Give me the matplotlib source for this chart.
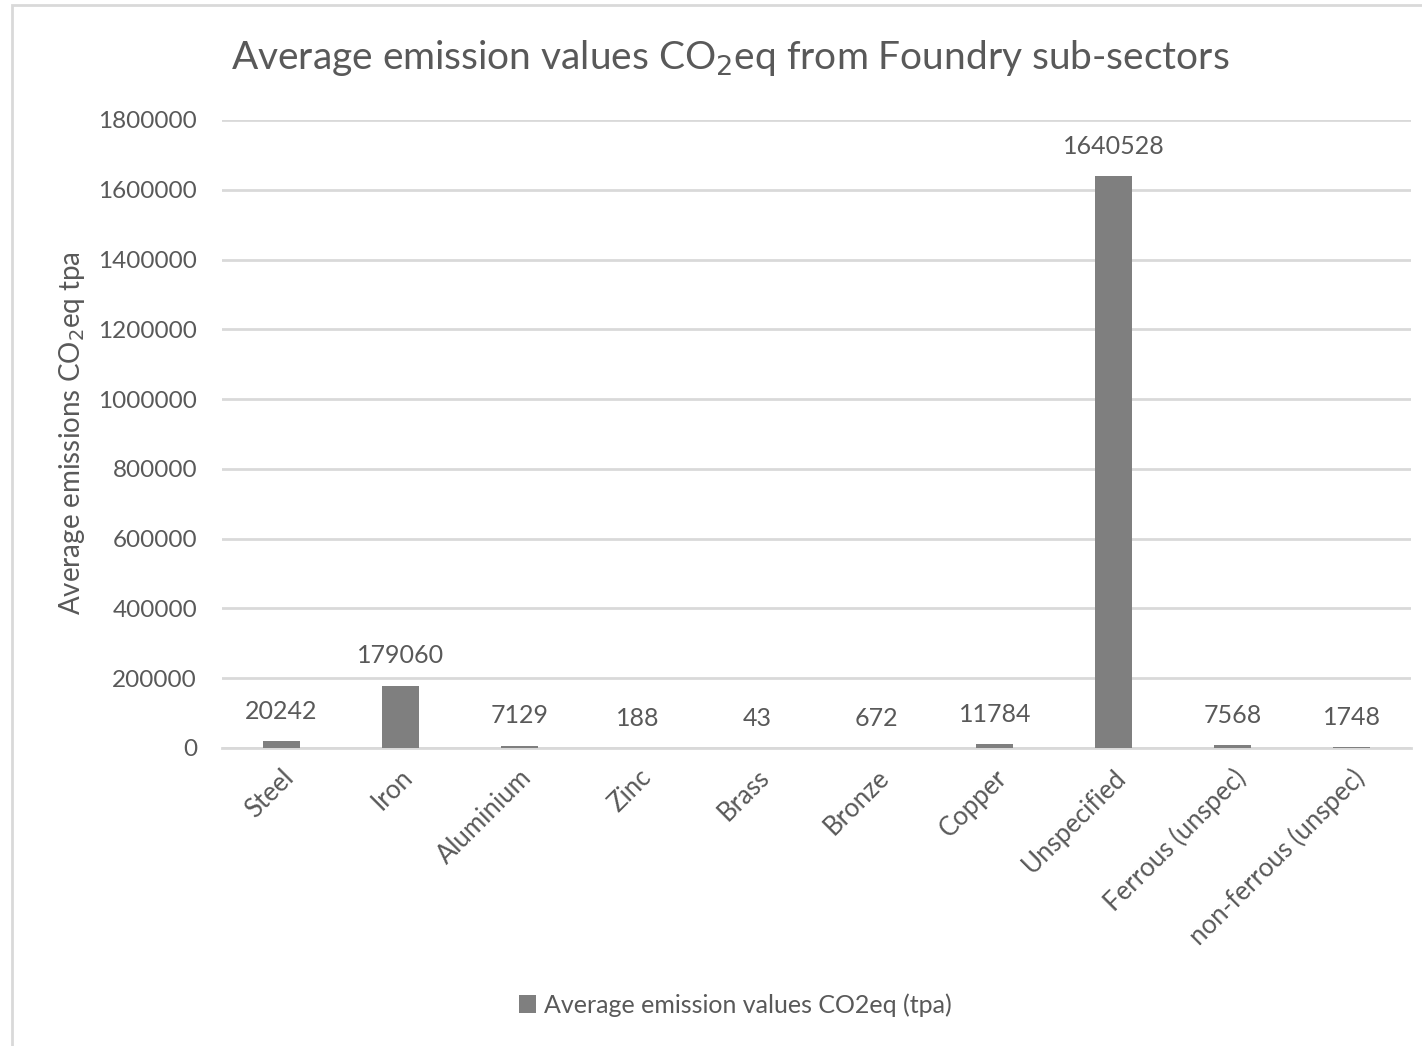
import matplotlib.pyplot as plt
from matplotlib.patches import Rectangle

# Foundry sub-sectors and average emissions (tpa CO2eq)
categories = ["Steel", "Iron", "Aluminium", "Zinc", "Brass", "Bronze",
              "Copper", "Unspecified", "Ferrous (unspec)", "non-ferrous (unspec)"]
emissions = [20242, 179060, 7129, 188, 43, 672, 11784, 1640528, 7568, 1748]
yticks = [0, 200000, 400000, 600000, 800000, 1000000, 1200000, 1400000, 1600000, 1800000]

text_col = "#595959"
plt.rcParams["font.family"] = ["Lato", "DejaVu Sans"]

W, H = 1422, 1046
fig = plt.figure(figsize=(W / 100, H / 100), dpi=100)
ax = fig.add_axes([222 / W, 1 - 748 / H, (1411 - 222) / W, (748 - 120) / H])

# light chart border (left and top visible in the reference)
fig.add_artist(Rectangle((12 / W, -0.1), 1.2, 1 - 5 / H + 0.1, transform=fig.transFigure,
                         fill=False, edgecolor="#d9d9d9", linewidth=2))

x = range(len(categories))
bars = ax.bar(x, emissions, width=0.31, color="#7f7f7f", zorder=3,
              label="Average emission values CO2eq (tpa)")

ax.set_xlim(-0.5, len(categories) - 0.5)
ax.set_ylim(0, 1800000)
ax.set_yticks(yticks)
ax.set_yticklabels([str(v) for v in yticks])
ax.yaxis.grid(True, color="#d9d9d9", linewidth=2, zorder=0)
ax.tick_params(axis="y", length=0, pad=18, labelsize=17.5, labelcolor=text_col)
ax.set_xticks(list(x))
ax.set_xticklabels(categories, rotation=45, ha="right", rotation_mode="anchor")
ax.tick_params(axis="x", length=0, pad=12, labelsize=18.5, labelcolor=text_col)
for s in ["top", "right", "left"]:
    ax.spines[s].set_visible(False)
ax.spines["bottom"].set_color("#d9d9d9")
ax.spines["bottom"].set_linewidth(2)

# value labels above bars
for b, v in zip(bars, emissions):
    ax.annotate(str(v), (b.get_x() + b.get_width() / 2, v), xytext=(0, 13),
                textcoords="offset points", ha="center", va="bottom",
                fontsize=18, color=text_col)

fig.text(72 / W, 1 - 433 / H, "Average emissions CO$_2$eq tpa", rotation=90,
         ha="center", va="center", fontsize=20, color=text_col)
fig.text(730 / W, 1 - 58 / H, "Average emission values CO$_2$eq from Foundry sub-sectors",
         ha="center", va="center", fontsize=28, color=text_col)

ax.legend(loc="center", bbox_to_anchor=(735 / W, 1 - 1005 / H), bbox_transform=fig.transFigure,
          frameon=False, fontsize=18, labelcolor=text_col, handlelength=0.7,
          handleheight=0.7, handletextpad=0.3)

fig.savefig("out.png", dpi=100)
